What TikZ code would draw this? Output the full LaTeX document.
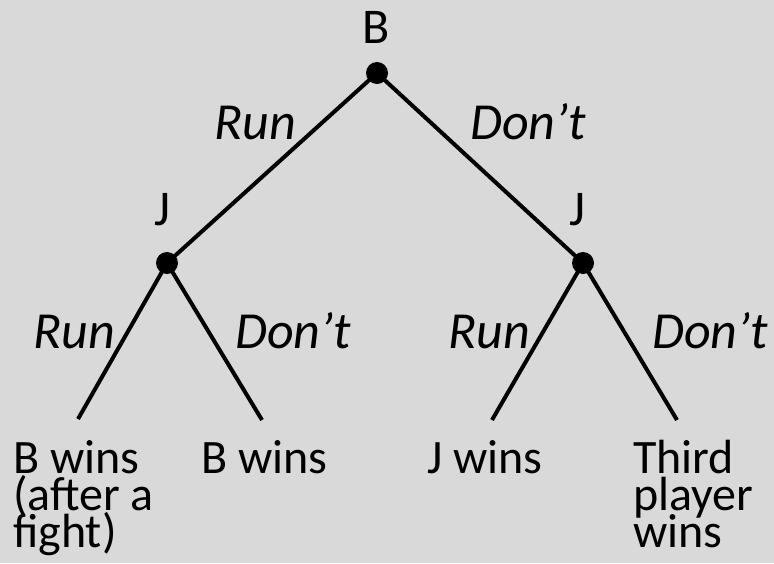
\documentclass[tikz,border=0pt]{standalone}
\usepackage{fontspec}
\setmainfont{Carlito}
\newcommand{\leaflines}[1]{\vtop{\baselineskip=37pt\lineskiplimit=-100pt\lineskip=0pt\halign{##\hfil\cr#1\crcr}}}
\begin{document}
\begin{tikzpicture}[x=1pt,y=-1pt,
  dot/.style={circle,fill=black,inner sep=0pt,minimum size=22pt},
  edge/.style={line width=4pt},
  player/.style={font=\fontsize{50}{50}\selectfont,inner sep=0pt,anchor=base},
  move/.style={font=\fontsize{52}{52}\selectfont\itshape,inner sep=0pt,anchor=base west},
  leaf/.style={font=\fontsize{48}{37}\selectfont,inner sep=0pt,anchor=base west}]
\fill[fill={rgb,255:red,217;green,217;blue,217}] (0,0) rectangle (774,563);
\useasboundingbox (0,0) rectangle (774,563);
\node[dot] (root) at (377,73) {};
\node[dot] (lj) at (167,263) {};
\node[dot] (rj) at (583,263) {};
\coordinate (ll) at (78,419);
\coordinate (lr) at (262,420);
\coordinate (rl) at (492,420);
\coordinate (rr) at (677,420);
\draw[edge] (root.center) -- (lj.center);
\draw[edge] (root.center) -- (rj.center);
\draw[edge] (lj.center) -- (ll);
\draw[edge] (lj.center) -- (lr);
\draw[edge] (rj.center) -- (rl);
\draw[edge] (rj.center) -- (rr);
\node[player] (pb) at (376,43) {B};
\node[player] (pj1) at (162,225) {J};
\node[player] (pj2) at (577,225) {J};
\node[move] (m1) at (214,139) {Run};
\node[move] (m2) at (470,139) {Don’t};
\node[move] (m3) at (33,348) {Run};
\node[move] (m4) at (235,348) {Don’t};
\node[move] (m5) at (448,348) {Run};
\node[move] (m6) at (652,348) {Don’t};
\node[leaf] (o1) at (13,473) {\leaflines{B wins\cr (after a\cr fight)}};
\node[leaf] (o2) at (201,473) {B wins};
\node[leaf] (o3) at (427,473) {J wins};
\node[leaf] (o4) at (633,473) {\leaflines{Third\cr player\cr wins}};
\end{tikzpicture}
\end{document}
